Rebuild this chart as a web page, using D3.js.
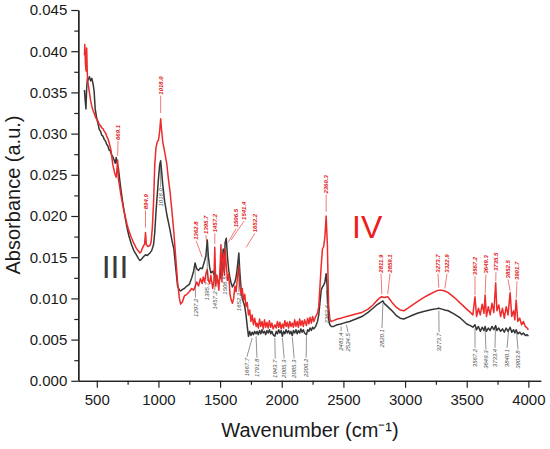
<!DOCTYPE html>
<html><head><meta charset="utf-8">
<script src="https://cdn.jsdelivr.net/npm/d3@7"></script>
<style>
html,body{margin:0;padding:0;background:#fff;}
svg{display:block;font-family:"Liberation Sans",Arial,sans-serif;}
</style></head>
<body>
<script>
// ---------- data ----------
const wnTicks = [500,1000,1500,2000,2500,3000,3500,4000];
const wnMinorTicks = [750,1250,1750,2250,2750,3250,3750];
const absTicks = [0,0.005,0.010,0.015,0.020,0.025,0.030,0.035,0.040,0.045];
const absMinorTicks = [0.0025,0.0075,0.0125,0.0175,0.0225,0.0275,0.0325,0.0375,0.0425];

const blackSpectrum = [
[400,0.0353],[405,0.0342],[412,0.0330],[418,0.0355],[424,0.0367],[430,0.0365],[440,0.0369],[450,0.0364],[460,0.0367],[470,0.0360],[478,0.0352],[487,0.0330],[500,0.0318],
[510,0.0312],[520,0.0305],[530,0.0303],[540,0.0298],[550,0.0297],[560,0.0293],[570,0.0291],[580,0.0287],[590,0.0285],[600,0.0280],[610,0.0279],[620,0.0274],[630,0.0272],[640,0.0268],[650,0.0264],[657,0.0271],[663,0.0266],[669,0.0262],[675,0.0258],[685,0.0245],[695,0.0233],[705,0.0222],[715,0.0212],[730,0.0198],[745,0.0186],[760,0.0176],[780,0.0166],[800,0.0158],[820,0.0153],[840,0.0148],[850,0.0146],[860,0.0147],[875,0.0150],[895,0.0153],[910,0.0152],[930,0.0155],[945,0.0158],
[960,0.0165],[970,0.0180],[980,0.0205],[990,0.0225],[1000,0.0245],[1010,0.0262],[1018,0.0267],[1025,0.0255],[1035,0.0238],[1050,0.0218],[1070,0.0200],[1090,0.0186],[1110,0.0170],[1125,0.0160],[1140,0.0137],[1155,0.0115],[1170,0.0110],[1180,0.0109],[1195,0.0111],[1210,0.0112],[1230,0.0115],[1250,0.0117],[1270,0.0125],[1285,0.0133],[1297,0.0143],[1310,0.0136],[1325,0.0134],[1340,0.0137],[1355,0.0136],[1363,0.0140],[1375,0.0146],[1385,0.0152],[1396,0.0171],[1405,0.0150],[1415,0.0138],[1425,0.0131],[1440,0.0133],[1450,0.0129],[1457,0.0136],[1465,0.0126],[1475,0.0122],[1490,0.0119],[1500,0.0125],[1507,0.0150],[1515,0.0138],[1525,0.0160],[1535,0.0145],[1541,0.0168],[1550,0.0173],[1560,0.0150],[1570,0.0134],[1580,0.0125],[1590,0.0118],[1600,0.0114],[1610,0.0117],[1620,0.0120],[1630,0.0126],[1640,0.0138],[1652,0.0155],[1660,0.0132],[1670,0.0112],[1680,0.0100],[1690,0.0095],[1700,0.0090],[1710,0.0080],[1720,0.0066],[1730,0.0054],[1740,0.0060],[1750,0.0055],[1760,0.0059],[1770,0.0056],[1780,0.0060],[1792,0.0057],
[1800,0.0060],[1810,0.0056],[1820,0.0061],[1830,0.0057],[1840,0.0062],[1850,0.0058],[1860,0.0060],[1870,0.0056],[1880,0.0061],[1890,0.0058],[1900,0.0062],[1910,0.0057],[1920,0.0060],[1930,0.0056],[1944,0.0054],[1955,0.0060],[1965,0.0057],[1975,0.0062],[1985,0.0058],[1995,0.0061],[2005,0.0054],[2015,0.0060],[2025,0.0057],[2035,0.0062],[2045,0.0058],[2055,0.0061],[2065,0.0057],[2075,0.0060],[2085,0.0055],[2095,0.0061],[2105,0.0058],[2115,0.0062],[2125,0.0057],[2135,0.0061],[2145,0.0058],[2155,0.0063],[2165,0.0059],[2175,0.0062],[2185,0.0058],[2200,0.0056],[2210,0.0062],[2220,0.0060],[2230,0.0064],[2240,0.0061],[2250,0.0065],[2260,0.0063],[2275,0.0066],[2290,0.0072],
[2300,0.0080],[2310,0.0095],[2320,0.0110],[2330,0.0114],[2340,0.0116],[2350,0.0120],[2360,0.0130],[2370,0.0110],[2380,0.0075],[2390,0.0068],[2400,0.0066],[2420,0.0066],[2450,0.0068],[2480,0.0069],[2500,0.0070],[2525,0.0071],[2550,0.0072],[2600,0.0075],[2650,0.0078],[2700,0.0083],[2740,0.0088],[2770,0.0092],[2790,0.0094],[2811,0.0096],[2820,0.0097],[2830,0.0094],[2859,0.0090],[2880,0.0087],[2900,0.0084],[2930,0.0079],[2960,0.0076],[2990,0.0075],[3020,0.0077],[3050,0.0079],[3100,0.0082],[3150,0.0084],[3200,0.0086],[3240,0.0087],[3273,0.0088],[3300,0.0087],[3322,0.0086],[3350,0.0085],[3400,0.0081],[3450,0.0076],[3500,0.0069],[3530,0.0067],
[3550,0.0065],[3567,0.0068],[3580,0.0062],[3595,0.0066],[3610,0.0060],[3625,0.0065],[3640,0.0061],[3649,0.0066],[3660,0.0060],[3675,0.0064],[3690,0.0061],[3705,0.0066],[3720,0.0062],[3735,0.0067],[3745,0.0061],[3760,0.0064],[3775,0.0060],[3790,0.0063],[3805,0.0059],[3820,0.0064],[3835,0.0060],[3852,0.0065],[3865,0.0059],[3880,0.0062],[3890,0.0058],[3901,0.0062],[3915,0.0057],[3930,0.0059],[3945,0.0056],[3960,0.0058],[3975,0.0055],[3990,0.0056],[4000,0.0054]
];

const redSpectrum = [
[400,0.0395],[403,0.0408],[408,0.0384],[413,0.0376],[418,0.0404],[423,0.0372],[430,0.0360],[440,0.0350],[450,0.0340],[460,0.0333],[470,0.0328],[480,0.0324],[490,0.0320],[500,0.0317],
[510,0.0315],[520,0.0311],[530,0.0310],[540,0.0307],[550,0.0306],[560,0.0303],[570,0.0301],[580,0.0297],[590,0.0294],[600,0.0289],[615,0.0280],[630,0.0262],[645,0.0252],[657,0.0247],[663,0.0255],[669,0.0268],[675,0.0245],[685,0.0236],[695,0.0226],[705,0.0218],[715,0.0210],[730,0.0200],[745,0.0190],[760,0.0182],[780,0.0174],[800,0.0167],[820,0.0161],[840,0.0157],[850,0.0155],[860,0.0157],[870,0.0161],[880,0.0164],[888,0.0166],[895,0.0180],[902,0.0165],[915,0.0163],[930,0.0164],[940,0.0168],
[950,0.0185],[960,0.0215],[970,0.0262],[980,0.0283],[990,0.0290],[1000,0.0292],[1010,0.0303],[1018,0.0318],[1025,0.0305],[1035,0.0290],[1050,0.0278],[1067,0.0264],[1080,0.0246],[1095,0.0228],[1110,0.0205],[1125,0.0180],[1140,0.0150],[1155,0.0120],[1170,0.0100],[1180,0.0093],[1195,0.0096],[1210,0.0103],[1230,0.0105],[1250,0.0108],[1270,0.0112],[1285,0.0110],[1297,0.0114],[1310,0.0120],[1325,0.0115],[1340,0.0124],[1355,0.0118],[1363,0.0126],[1375,0.0120],[1385,0.0130],[1396,0.0135],[1405,0.0122],[1415,0.0118],[1425,0.0128],[1440,0.0112],[1450,0.0122],[1457,0.0162],[1465,0.0115],[1475,0.0128],[1490,0.0110],[1500,0.0138],[1507,0.0165],[1515,0.0120],[1525,0.0155],[1535,0.0128],[1541,0.0160],[1550,0.0140],[1560,0.0122],[1570,0.0130],[1580,0.0105],[1590,0.0098],[1600,0.0094],[1610,0.0100],[1620,0.0115],[1630,0.0108],[1640,0.0125],[1652,0.0140],[1660,0.0115],[1670,0.0105],[1680,0.0112],[1690,0.0098],[1700,0.0105],[1710,0.0090],[1720,0.0095],[1730,0.0080],[1740,0.0086],[1750,0.0072],[1760,0.0080],[1770,0.0068],[1780,0.0076],[1792,0.0066],
[1800,0.0070],[1810,0.0064],[1820,0.0075],[1830,0.0066],[1840,0.0072],[1850,0.0063],[1860,0.0074],[1870,0.0065],[1880,0.0071],[1890,0.0064],[1900,0.0073],[1910,0.0065],[1920,0.0070],[1930,0.0063],[1944,0.0068],[1955,0.0064],[1965,0.0072],[1975,0.0065],[1985,0.0071],[1995,0.0063],[2005,0.0069],[2015,0.0064],[2025,0.0073],[2035,0.0066],[2045,0.0071],[2055,0.0064],[2065,0.0072],[2075,0.0066],[2085,0.0070],[2095,0.0065],[2105,0.0074],[2115,0.0066],[2125,0.0072],[2135,0.0065],[2145,0.0075],[2155,0.0067],[2165,0.0073],[2175,0.0066],[2185,0.0074],[2200,0.0067],[2210,0.0076],[2220,0.0069],[2230,0.0077],[2240,0.0070],[2250,0.0078],[2260,0.0072],[2275,0.0078],[2290,0.0082],
[2300,0.0090],[2310,0.0115],[2320,0.0140],[2330,0.0160],[2340,0.0163],[2350,0.0175],[2360,0.0200],[2370,0.0165],[2380,0.0090],[2390,0.0075],[2400,0.0072],[2420,0.0073],[2450,0.0075],[2480,0.0076],[2500,0.0077],[2525,0.0078],[2550,0.0079],[2600,0.0081],[2650,0.0083],[2700,0.0087],[2740,0.0092],[2770,0.0097],[2790,0.0100],[2811,0.0102],[2830,0.0101],[2859,0.0102],[2880,0.0098],[2900,0.0094],[2930,0.0089],[2960,0.0086],[2990,0.0085],[3020,0.0088],[3050,0.0091],[3100,0.0096],[3150,0.0101],[3200,0.0105],[3240,0.0108],[3273,0.0110],[3300,0.0110],[3322,0.0109],[3350,0.0107],[3400,0.0101],[3450,0.0094],[3500,0.0087],[3530,0.0083],
[3550,0.0080],[3567,0.0102],[3580,0.0078],[3595,0.0088],[3610,0.0080],[3625,0.0093],[3640,0.0082],[3649,0.0104],[3660,0.0078],[3675,0.0090],[3690,0.0080],[3705,0.0094],[3720,0.0083],[3735,0.0119],[3745,0.0085],[3760,0.0092],[3775,0.0078],[3790,0.0088],[3805,0.0076],[3820,0.0090],[3835,0.0080],[3852,0.0107],[3865,0.0078],[3880,0.0085],[3890,0.0074],[3901,0.0098],[3915,0.0072],[3930,0.0076],[3945,0.0068],[3960,0.0072],[3975,0.0066],[3990,0.0064],[4000,0.0062]
];

// peak labels: [text, leader wavenumber, leader absorbance, label wavenumber, label absorbance]
const redPeakLabels = [
["669.1",669.1,0.0273,672,0.0291],
["894.9",894.9,0.0186,894.9,0.0207],
["1018.0",1018.0,0.0325,1018.0,0.0346],
["1362.8",1355,0.0150,1305,0.0170],
["1395.7",1390,0.0168,1385,0.0177],
["1457.2",1457.2,0.0166,1457.2,0.0179],
["1506.5",1566,0.0168,1630,0.0185],
["1541.4",1590,0.0171,1695,0.0194],
["1652.2",1711,0.0162,1782,0.0179],
["2360.3",2360.3,0.0205,2360.3,0.0226],
["2811.9",2811.9,0.0105,2805,0.0130],
["2859.1",2859.1,0.0105,2878,0.0130],
["3273.7",3273.7,0.0113,3267,0.0130],
["3322.9",3322.9,0.0112,3340,0.0130],
["3567.2",3567.2,0.0104,3567.2,0.0127],
["3649.3",3649.3,0.0106,3656,0.0129],
["3735.5",3735.5,0.0121,3737,0.0132],
["3852.5",3852.5,0.0109,3835,0.0123],
["3901.7",3901.7,0.0100,3908,0.0121]
];
const blackPeakLabels = [
["1018.0",1018,0.0262,1018,0.0235],
["1297.2",1297.2,0.0140,1300,0.0101],
["1395.7",1395.7,0.0165,1395.7,0.0121],
["1457.2",1457.2,0.0132,1457.2,0.0110],
["1506.5",1506.5,0.0145,1540,0.0128],
["1652.2",1652.2,0.0150,1652.2,0.0108],
["1667.7",1760,0.0052,1717,0.0029],
["1791.8",1791.8,0.0054,1799,0.0028],
["1943.7",1943.7,0.0052,1947,0.0027],
["2005.3",2005.3,0.0052,2020,0.0027],
["2085.3",2085.3,0.0053,2101,0.0027],
["2200.2",2200.2,0.0054,2198,0.0028],
["2362.4",2362.4,0.0110,2368,0.0093],
["2481.4",2481.4,0.0066,2481.4,0.0060],
["2524.5",2524.5,0.0068,2537,0.0059],
["2820.1",2820.1,0.0094,2813,0.0064],
["3273.7",3273.7,0.0085,3276,0.0059],
["3567.2",3567.2,0.0064,3567.2,0.0040],
["3649.3",3649.3,0.0063,3656,0.0038],
["3733.4",3733.4,0.0064,3729,0.0040],
["3840.1",3840.1,0.0062,3827,0.0040],
["3903.8",3903.8,0.0060,3916,0.0038]
];
const regionLabels = [["III",540,0.01245,"#3a3a3a"],["IV",2570,0.0173,"#ee1c1c"]];

// ---------- drawing ----------
const W = 550, H = 449;
const svg = d3.select("body").append("svg").attr("width",W).attr("height",H);
const x = d3.scaleLinear().domain([350,4100]).range([78.3,540.7]);
const y = d3.scaleLinear().domain([0,0.045]).range([380.8,10]);

const BLACK = "#363636", RED = "#ee2a2a";

// axes
const gx = svg.append("g").attr("transform",`translate(0,${y(0)})`)
  .call(d3.axisBottom(x).tickValues(wnTicks).tickSize(7).tickSizeOuter(0).tickPadding(7).tickFormat(d3.format("d")));
const gxm = svg.append("g").attr("transform",`translate(0,${y(0)})`)
  .call(d3.axisBottom(x).tickValues(wnMinorTicks).tickSize(4).tickSizeOuter(0).tickFormat(""));
const gy = svg.append("g").attr("transform",`translate(${x(350)},0)`)
  .call(d3.axisLeft(y).tickValues(absTicks).tickSize(7).tickSizeOuter(0).tickPadding(4).tickFormat(d3.format(".3f")));
const gym = svg.append("g").attr("transform",`translate(${x(350)},0)`)
  .call(d3.axisLeft(y).tickValues(absMinorTicks).tickSize(4).tickSizeOuter(0).tickFormat(""));
[gx,gxm,gy,gym].forEach(g=>{
  g.selectAll("path.domain").attr("stroke","#222").attr("stroke-width",1.3);
  g.selectAll(".tick line").attr("stroke","#222").attr("stroke-width",1.2);
  g.selectAll(".tick text").attr("font-family","Liberation Sans, Arial, sans-serif").attr("font-size",15).attr("fill","#1a1a1a");
});

// axis titles
svg.append("text").attr("transform","translate(20,195) rotate(-90)")
  .attr("text-anchor","middle").attr("font-size",20).attr("fill","#1a1a1a")
  .text("Absorbance (a.u.)");
svg.append("text").attr("x",310).attr("y",437)
  .attr("text-anchor","middle").attr("font-size",20).attr("fill","#1a1a1a")
  .text("Wavenumber (cm\u207B\u00B9)");

// spectra
const line = d3.line().x(d=>x(d[0])).y(d=>y(d[1]));
svg.append("path").datum(blackSpectrum).attr("d",line)
  .attr("fill","none").attr("stroke",BLACK).attr("stroke-width",1.5).attr("stroke-linejoin","round");
svg.append("path").datum(redSpectrum).attr("d",line)
  .attr("fill","none").attr("stroke",RED).attr("stroke-width",1.5).attr("stroke-linejoin","round");

// peak labels
function drawLabels(list, color, above){
  const g = svg.append("g");
  list.forEach(([t,wn,ab,lwn,lab])=>{
    g.append("line").attr("x1",x(wn)).attr("y1",y(ab)).attr("x2",x(lwn)).attr("y2",y(lab))
      .attr("stroke",color).attr("stroke-width",0.6);
    g.append("text")
      .attr("transform",`translate(${x(lwn)},${y(lab) + (above? -1 : 1)}) rotate(-90)`)
      .attr("dy","0.35em")
      .attr("text-anchor", above ? "start" : "end")
      .attr("font-size",6).attr("font-style","italic").attr("font-weight", above? "bold":"normal")
      .attr("fill",color).text(t);
  });
}
drawLabels(redPeakLabels, "#e42222", true);
drawLabels(blackPeakLabels, "#4a4a4a", false);

// region labels
regionLabels.forEach(([t,wn,ab,c])=>{
  svg.append("text").attr("x",x(wn)).attr("y",y(ab))
    .attr("font-size",32).attr("fill",c).text(t);
});
</script>
</body></html>
